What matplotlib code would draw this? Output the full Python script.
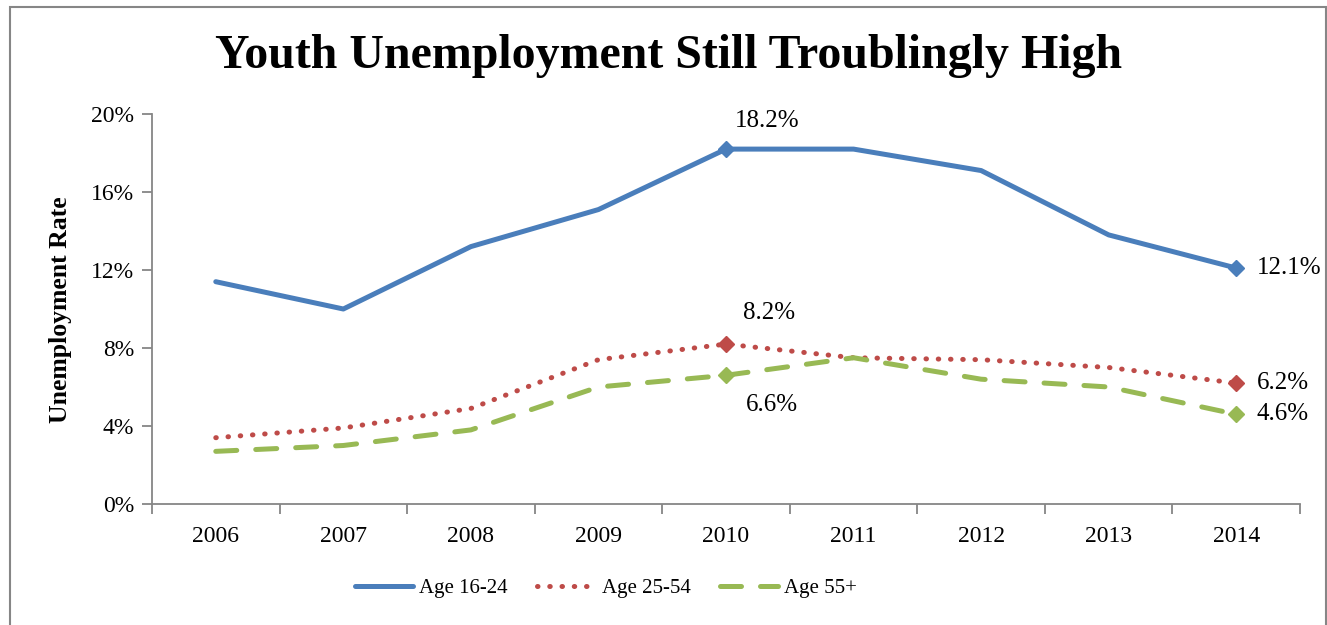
import matplotlib
matplotlib.use("Agg")
import matplotlib.pyplot as plt
from matplotlib.patches import Rectangle
import numpy as np

# data
years = ['2006', '2007', '2008', '2009', '2010', '2011', '2012', '2013', '2014']
age_16_24 = [11.4, 10.0, 13.2, 15.1, 18.2, 18.2, 17.1, 13.8, 12.1]
age_25_54 = [3.4, 3.9, 4.9, 7.4, 8.2, 7.5, 7.4, 7.0, 6.2]
age_55_up = [2.7, 3.0, 3.8, 6.0, 6.6, 7.5, 6.4, 6.0, 4.6]
y_ticks = [0, 4, 8, 12, 16, 20]

plt.rcParams['font.family'] = ['Liberation Serif', 'DejaVu Serif']

fig = plt.figure(figsize=(13.27, 6.25), dpi=100)
ax = fig.add_axes([152 / 1327, 1 - 504 / 625, 1148 / 1327, 390 / 625])

x = np.arange(len(years))
blue, red, green = '#4A7EBB', '#BE4B48', '#98B954'

ax.plot(x, age_16_24, color=blue, lw=3.6, solid_capstyle='round', label='Age 16-24')
ax.plot(x, age_25_54, color=red, lw=3.6, linestyle=(0, (0.1, 2.35)),
        dash_capstyle='round', label='Age 25-54')
ax.plot(x, age_55_up, color=green, lw=3.6, linestyle=(0, (4.2, 3.8)),
        dash_capstyle='round', label='Age 55+')

# diamond markers on 2010 and 2014
for series, c in [(age_16_24, blue), (age_25_54, red), (age_55_up, green)]:
    for i in (4, 8):
        ax.plot(x[i], series[i], marker='D', ms=8, color=c, ls='none')

lab = dict(fontsize=18, color='black', va='center')
ax.text(x[4] + 0.32, age_16_24[4] + 1.45, f'{age_16_24[4]}%', ha='center', **lab)
ax.text(x[4] + 0.34, age_25_54[4] + 1.6, f'{age_25_54[4]}%', ha='center', **lab)
ax.text(x[4] + 0.36, age_55_up[4] - 1.52, f'{age_55_up[4]}%', ha='center', **lab)
ax.text(x[8] + 0.16, age_16_24[8], f'{age_16_24[8]}%', ha='left', **lab)
ax.text(x[8] + 0.16, age_25_54[8], f'{age_25_54[8]}%', ha='left', **lab)
ax.text(x[8] + 0.16, age_55_up[8], f'{age_55_up[8]}%', ha='left', **lab)

ax.set_xlim(-0.5, len(years) - 0.5)
ax.set_ylim(0, 20)
ax.set_yticks(y_ticks)
ax.set_yticklabels([f'{t}%' for t in y_ticks], fontsize=17)

# tick marks sit between categories, labels at centres
ax.set_xticks(np.arange(-0.5, len(years), 1))
ax.set_xticklabels([])
ax.set_xticks(x, minor=True)
ax.set_xticklabels(years, minor=True, fontsize=17)
ax.tick_params(axis='x', which='major', length=7, width=1.3, color='#868686')
ax.tick_params(axis='x', which='minor', length=0, pad=16)
ax.tick_params(axis='y', length=7, width=1.3, color='#868686', pad=6)

for s in ['top', 'right']:
    ax.spines[s].set_visible(False)
for s in ['left', 'bottom']:
    ax.spines[s].set_color('#868686')
    ax.spines[s].set_linewidth(1.3)

fig.text(60 / 1327, 1 - 310 / 625, 'Unemployment Rate', rotation=90, ha='center',
         va='center', fontsize=18.5, fontweight='bold')
fig.text(669 / 1327, 1 - 56 / 625, 'Youth Unemployment Still Troublingly High',
         ha='center', va='center', fontsize=34.5, fontweight='bold')

fig.legend(loc='center', bbox_to_anchor=(606 / 1327, 1 - 588 / 625), ncol=3,
           frameon=False, fontsize=15, handlelength=2.8, handletextpad=0.3,
           columnspacing=1.4)

# chart border
fig.patches.append(Rectangle((10 / 1327, -0.1), 1316 / 1327, 1.1 - 7 / 625,
                             transform=fig.transFigure, fill=False,
                             edgecolor='#868686', lw=1.5))

fig.savefig('out.png', dpi=100)
